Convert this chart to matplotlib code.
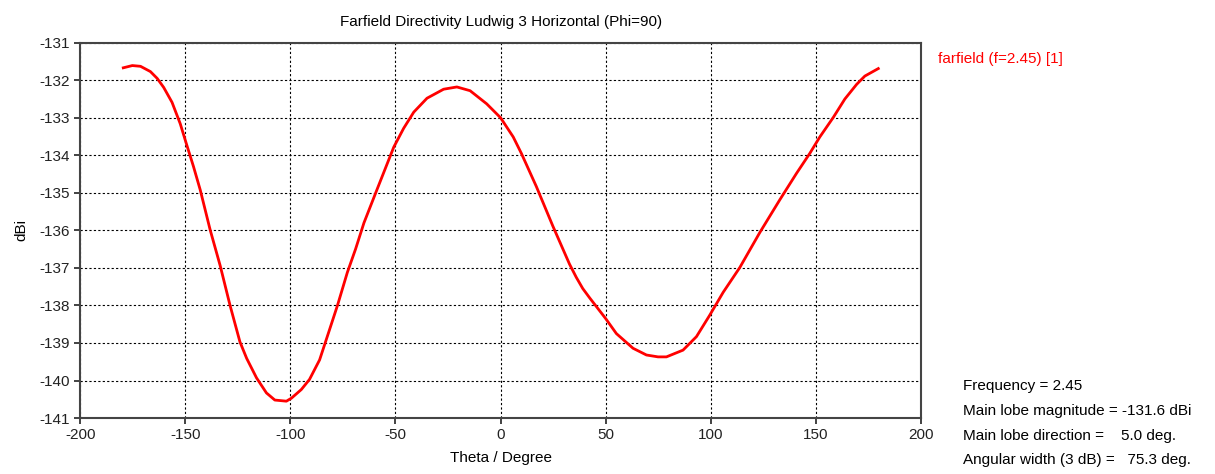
import numpy as np
import matplotlib
matplotlib.use('Agg')
import matplotlib.pyplot as plt

plt.rcParams['font.family'] = ['Liberation Sans', 'DejaVu Sans']
plt.rcParams['axes.unicode_minus'] = False

# theta (deg) and directivity (dBi)
theta = [-179.5, -175.2, -171.3, -166.6, -163.4, -160.3, -156.3, -152.4, -149.5,
         -146.1, -142.9, -138.2, -133.4, -128.7, -124.0, -120.8, -116.1, -111.4,
         -107.4, -101.9, -99.5, -94.8, -90.9, -86.1, -81.4, -77.6, -72.9, -69.0, -65.0,
         -58.7, -50.8, -46.1, -41.3, -35.0, -27.1, -20.8, -14.5, -6.6, 0.0,
         6.0, 9.9, 17.0, 24.9, 32.8, 36.0, 39.1, 42.4, 50.0, 55.1, 63.0, 69.4, 74.9,
         78.9, 86.8, 93.2, 99.5, 105.9, 113.8, 123.3, 132.9, 140.8, 147.1, 151.9,
         158.3, 163.8, 169.4, 173.3, 179.7]
dbi = [-131.67, -131.61, -131.63, -131.77, -131.95, -132.19, -132.59, -133.16, -133.69,
       -134.30, -134.92, -135.98, -136.94, -138.00, -138.97, -139.41, -139.93, -140.33,
       -140.52, -140.55, -140.47, -140.24, -139.97, -139.45, -138.65, -138.00, -137.12, -136.50, -135.80,
       -134.90, -133.78, -133.28, -132.85, -132.48, -132.24, -132.18, -132.28, -132.63, -133.00,
       -133.51, -133.95, -134.83, -135.89, -136.90, -137.25, -137.55, -137.80, -138.35, -138.75, -139.14, -139.32, -139.37,
       -139.37, -139.19, -138.83, -138.26, -137.65, -136.99, -136.06, -135.18, -134.48, -133.95, -133.51,
       -132.99, -132.50, -132.11, -131.89, -131.69]

xticks = [-200, -150, -100, -50, 0, 50, 100, 150, 200]
yticks = [-131, -132, -133, -134, -135, -136, -137, -138, -139, -140, -141]

legend_label = 'farfield (f=2.45) [1]'
info_lines = ['Frequency = 2.45',
              'Main lobe magnitude = -131.6 dBi',
              'Main lobe direction =    5.0 deg.',
              'Angular width (3 dB) =   75.3 deg.']

fig = plt.figure(figsize=(12.15, 4.74), dpi=100)
ax = fig.add_axes([0.066, 0.118, 0.692, 0.792])

ax.plot(theta, dbi, color='red', lw=2)
ax.set_xlim(-200, 200)
ax.set_ylim(-141, -131)
ax.set_xticks(xticks)
ax.set_yticks(yticks)
ax.grid(True, color='black', linestyle=(0, (2, 2)), lw=0.8)
ax.tick_params(direction='out', length=4, width=1.2, labelsize=11, colors='#222222')
for s in ax.spines.values():
    s.set_color('#444444')
    s.set_linewidth(1.5)

ax.set_title('Farfield Directivity Ludwig 3 Horizontal (Phi=90)', fontsize=11, pad=12)
ax.set_xlabel('Theta / Degree', fontsize=11, labelpad=6)
ax.set_ylabel('dBi', fontsize=11, labelpad=8)

fig.text(0.772, 0.875, legend_label, color='red', fontsize=11, va='center')
for i, line in enumerate(info_lines):
    fig.text(0.793, 0.185 - i * 0.052, line, fontsize=11, va='center')

fig.savefig('out.png', dpi=100)
